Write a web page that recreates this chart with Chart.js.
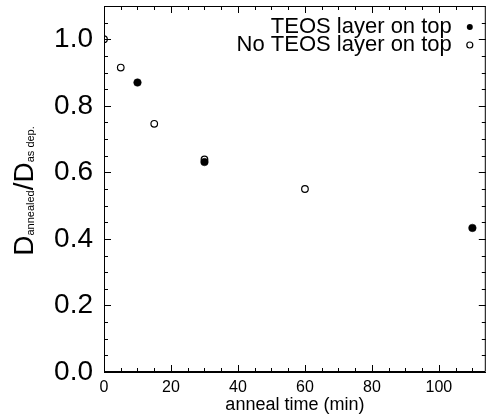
<!DOCTYPE html>
<html>
<head>
<meta charset="utf-8">
<script src="https://cdn.jsdelivr.net/npm/chart.js@4/dist/chart.umd.min.js"></script>
<style>
  body { margin: 0; background: #fff; }
  #wrap { width: 491px; height: 416px; position: relative; }
</style>
</head>
<body>
<div id="wrap"><canvas id="annealChart"></canvas></div>
<script>
// anneal time (min) and thickness ratio D_annealed / D_as dep.
const teosTime = [10, 30, 110];
const teosRatio = [0.87, 0.631, 0.433];
const noTeosTime = [0, 5, 15, 30, 60];
const noTeosRatio = [1.0, 0.915, 0.746, 0.639, 0.55];

const xTicks = [0, 20, 40, 60, 80, 100];
const yTicks = [0.0, 0.2, 0.4, 0.6, 0.8, 1.0];
const legendLabels = ["TEOS layer on top", "No TEOS layer on top"];

const FONT = "'Liberation Sans', Arial, Helvetica, sans-serif";

function toPoints(xs, ys) {
  return xs.map((x, i) => ({ x: x, y: ys[i] }));
}

// inward tick marks on all four sides
const frameTicks = {
  id: "frameTicks",
  afterDraw(chart) {
    const { ctx, chartArea: a, scales } = chart;
    const xs = scales.x, ys = scales.y;
    ctx.save();
    ctx.strokeStyle = "#000";
    ctx.lineWidth = 1;
    ctx.beginPath();
    ctx.rect(a.left + 0.5, a.top + 0.5, a.right - a.left - 1, a.bottom - a.top - 1);
    ctx.stroke();
    for (let v = 0; v <= xs.max; v += 5) {
      const px = Math.round(xs.getPixelForValue(v)) + 0.5;
      const len = v % 20 === 0 ? 7 : 4;
      ctx.beginPath();
      ctx.moveTo(px, a.bottom); ctx.lineTo(px, a.bottom - len);
      ctx.moveTo(px, a.top); ctx.lineTo(px, a.top + len);
      ctx.stroke();
    }
    for (let i = 0; i * 0.05 <= ys.max + 1e-9; i++) {
      const py = Math.round(ys.getPixelForValue(i * 0.05)) + 0.5;
      const len = i % 4 === 0 ? 7 : 4;
      ctx.beginPath();
      ctx.moveTo(a.left, py); ctx.lineTo(a.left + len, py);
      ctx.moveTo(a.right, py); ctx.lineTo(a.right - len, py);
      ctx.stroke();
    }
    ctx.restore();
  }
};

// legend: text with the marker on its right
const rightLegend = {
  id: "rightLegend",
  afterDraw(chart) {
    const { ctx, chartArea: a } = chart;
    ctx.save();
    ctx.font = "22px " + FONT;
    ctx.fillStyle = "#000";
    ctx.textAlign = "right";
    ctx.textBaseline = "alphabetic";
    const base = [33, 51];
    legendLabels.forEach((t, i) => {
      ctx.fillText(t, a.right - 34, base[i]);
      ctx.beginPath();
      ctx.arc(a.right - 16, base[i] - 6, 3, 0, Math.PI * 2);
      if (i === 0) {
        ctx.fill();
      } else {
        ctx.lineWidth = 1.2;
        ctx.stroke();
      }
    });
    ctx.restore();
  }
};

// y title with subscripts: D_annealed / D_as dep.
const yTitle = {
  id: "yTitle",
  afterDraw(chart) {
    const { ctx, chartArea: a } = chart;
    const parts = [
      ["D", 28, 0], ["annealed", 11, 1], ["/", 28, 0], ["D", 28, 0], ["as dep.", 11, 1]
    ];
    ctx.save();
    ctx.fillStyle = "#000";
    ctx.textBaseline = "alphabetic";
    ctx.textAlign = "left";
    let total = 0;
    parts.forEach(p => { ctx.font = p[1] + "px " + FONT; total += ctx.measureText(p[0]).width; });
    ctx.translate(33, (a.top + a.bottom) / 2 + 2);
    ctx.rotate(-Math.PI / 2);
    let x = -total / 2;
    parts.forEach(p => {
      ctx.font = p[1] + "px " + FONT;
      ctx.fillText(p[0], x, p[2]);
      x += ctx.measureText(p[0]).width;
    });
    ctx.restore();
  }
};

new Chart(document.getElementById("annealChart"), {
  type: "scatter",
  data: {
    datasets: [
      {
        label: legendLabels[0],
        data: toPoints(teosTime, teosRatio),
        pointRadius: 3.8,
        pointBackgroundColor: "#000",
        pointBorderColor: "#000",
        pointBorderWidth: 0.5,
      },
      {
        label: legendLabels[1],
        data: toPoints(noTeosTime, noTeosRatio),
        pointRadius: 3.3,
        pointBackgroundColor: "#fff",
        pointBorderColor: "#000",
        pointBorderWidth: 1.2,
      },
    ],
  },
  options: {
    responsive: true,
    maintainAspectRatio: false,
    animation: false,
    layout: { padding: { top: 6, right: 2, left: 0, bottom: 0 } },
    plugins: { legend: { display: false }, tooltip: { enabled: false } },
    scales: {
      x: {
        type: "linear",
        min: 0,
        max: 114,
        afterBuildTicks: s => { s.ticks = xTicks.map(v => ({ value: v })); },
        afterFit: s => { s.height = 44; s.paddingLeft = 0; s.paddingRight = 0; },
        grid: { display: false, drawTicks: false },
        border: { display: true, color: "#000" },
        ticks: { color: "#000", padding: 6, maxRotation: 0, font: { family: FONT, size: 16 } },
        title: {
          display: true,
          text: "anneal time (min)",
          color: "#000",
          padding: { top: 0, bottom: 0 },
          font: { family: FONT, size: 18 },
        },
      },
      y: {
        type: "linear",
        min: 0,
        max: 1.1,
        afterBuildTicks: s => { s.ticks = yTicks.map(v => ({ value: v })); },
        afterFit: s => { s.width = 104; s.paddingTop = 0; s.paddingBottom = 0; },
        grid: { display: false, drawTicks: false },
        border: { display: true, color: "#000" },
        ticks: {
          color: "#000",
          padding: 11,
          font: { family: FONT, size: 28 },
          callback: v => v.toFixed(1),
        },
      },
    },
  },
  plugins: [frameTicks, rightLegend, yTitle],
});
</script>
</body>
</html>
